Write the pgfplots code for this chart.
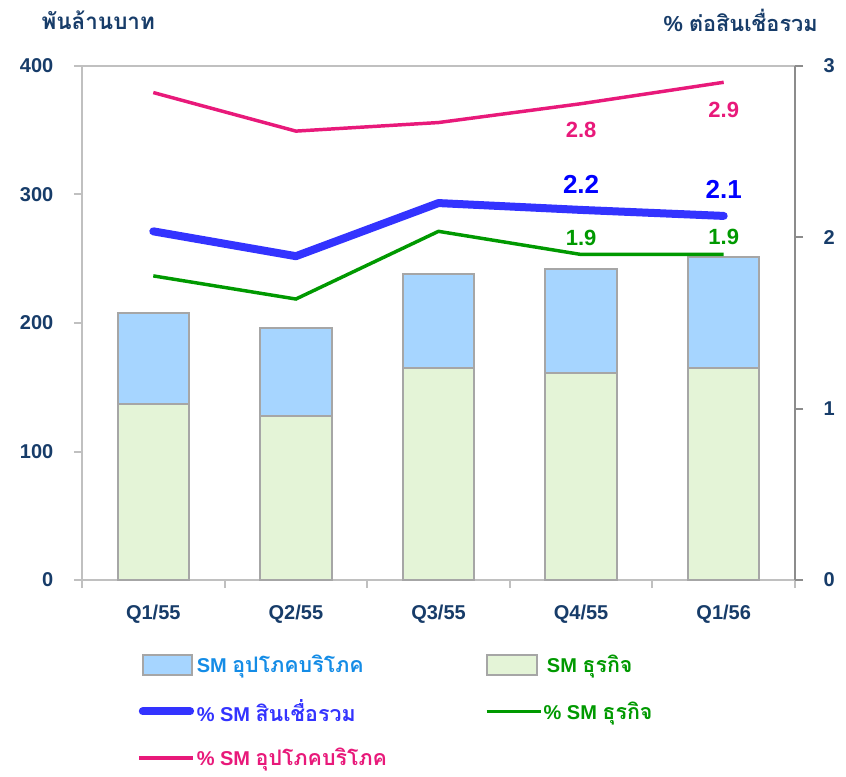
\documentclass[border=0pt]{standalone}
\usepackage{fontspec}
\setmainfont{Liberation Sans}
\newfontfamily\thai[Script=Thai]{Loma}
\newfontfamily\thaiL[Script=Thai,Scale=1.07]{Loma}
\usepackage{pgfplots}
\pgfplotsset{compat=1.18}
\definecolor{navy}{RGB}{23,60,105}
\definecolor{barblue}{RGB}{166,213,255}
\definecolor{bargreen}{RGB}{228,244,215}
\definecolor{bargray}{RGB}{166,166,166}
\definecolor{framegray}{RGB}{192,192,192}
\definecolor{rframe}{RGB}{140,140,140}
\definecolor{lblue}{RGB}{51,51,255}
\definecolor{lgreen}{RGB}{0,153,0}
\definecolor{lpink}{RGB}{232,25,122}
\definecolor{tblue}{RGB}{20,140,230}
\definecolor{dblue}{RGB}{0,0,255}
\begin{document}
\begin{tikzpicture}[font=\bfseries\fontsize{15pt}{18pt}\selectfont]
\path[use as bounding box] (0,0) rectangle (634.5pt,582pt);
% titles
\node[anchor=west, text=navy, inner sep=0pt, font=\bfseries\fontsize{16.8pt}{20pt}\selectfont] at (31pt,567pt) {\thai\bfseries พันล้านบาท};
\node[anchor=east, text=navy, inner sep=0pt, font=\bfseries\fontsize{16.3pt}{20pt}\selectfont] at (613.5pt,567pt) {\% {\thai\bfseries ต่อสินเชื่อรวม}};
\begin{axis}[
  at={(61.5pt,147pt)}, anchor=south west,
  width=534.75pt, height=385.5pt, scale only axis,
  xmin=-0.5, xmax=4.5, ymin=0, ymax=400,
  ytick={0,100,200,300,400},
  xtick={-0.5,0.5,1.5,2.5,3.5,4.5},
  x tick label as interval,
  xticklabels={Q1/55,Q2/55,Q3/55,Q4/55,Q1/56},
  xtick pos=left, ytick pos=left,
  tick align=outside,
  major tick length=6pt,
  tick style={framegray, line width=1.5pt},
  axis line style={framegray, line width=1.5pt},
  /pgf/number format/assume math mode=true,
  tick label style={font=\bfseries\fontsize{15pt}{18pt}\selectfont, text=navy},
  yticklabel style={xshift=-12pt},
  xticklabel style={yshift=-9pt},
  ybar stacked, bar width=0.5,
]
\addplot[fill=bargreen, draw=bargray, line width=1.5pt] coordinates {(0,137)(1,128)(2,165)(3,161)(4,165)};
\addplot[fill=barblue, draw=bargray, line width=1.5pt] coordinates {(0,71)(1,68)(2,73)(3,81)(4,86)};
\end{axis}
\begin{axis}[
  at={(61.5pt,147pt)}, anchor=south west,
  width=534.75pt, height=385.5pt, scale only axis,
  xmin=-0.5, xmax=4.5, ymin=0, ymax=3,
  ytick={0,1,2,3},
  axis y line*=right, axis x line=none,
  tick align=outside,
  major tick length=6pt,
  ytick style={rframe, line width=1.5pt},
  y axis line style={rframe, line width=1.5pt},
  /pgf/number format/assume math mode=true,
  tick label style={font=\bfseries\fontsize{15pt}{18pt}\selectfont, text=navy},
  yticklabel style={xshift=12pt},
  legend columns=2,
  legend cell align=left,
  legend style={draw=none, fill=none, at={(0.069,-0.135)}, anchor=north west,
    row sep=14.6pt, font=\bfseries\fontsize{15pt}{18pt}\selectfont},
  legend image code/.code={\draw[#1] (0pt,0pt) -- (40.5pt,0pt);},
]
\addlegendimage{legend image code/.code={\draw[fill=barblue,draw=bargray,line width=1.5pt] (3pt,-7.5pt) rectangle (39.5pt,7.5pt);}}
\addlegendentry{\hspace*{-2.5pt}\makebox[214pt][l]{\textcolor{tblue}{SM {\thaiL\bfseries อุปโภคบริโภค}}}}
\addlegendimage{legend image code/.code={\draw[fill=bargreen,draw=bargray,line width=1.5pt] (0.5pt,-7.5pt) rectangle (37.5pt,7.5pt);}}
\addlegendentry{\hspace*{1.5pt}\textcolor{lgreen}{SM {\thaiL\bfseries ธุรกิจ}}}
\addplot[lblue, line width=6pt, line cap=round, line join=round, legend image post style={shorten <=2.5pt, shorten >=2.5pt}] coordinates {(0,2.035)(1,1.89)(2,2.2)(3,2.16)(4,2.125)};
\addlegendentry{\hspace*{-2.5pt}\textcolor{lblue}{\% SM {\thaiL\bfseries สินเชื่อรวม}}}
\addplot[lgreen, line width=2.6pt] coordinates {(0,1.775)(1,1.64)(2,2.035)(3,1.9)(4,1.9)};
\addlegendentry{\hspace*{-1pt}\textcolor{lgreen}{\% SM {\thaiL\bfseries ธุรกิจ}}}
\addplot[lpink, line width=2.6pt] coordinates {(0,2.845)(1,2.62)(2,2.67)(3,2.78)(4,2.905)};
\addlegendentry{\hspace*{-2.5pt}\textcolor{lpink}{\% SM {\thaiL\bfseries อุปโภคบริโภค}}}
\node[text=lpink, font=\bfseries\fontsize{16.5pt}{18pt}\selectfont, yshift=-19.5pt] at (axis cs:3,2.78) {2.8};
\node[text=lpink, font=\bfseries\fontsize{16.5pt}{18pt}\selectfont, yshift=-21pt] at (axis cs:4,2.905) {2.9};
\node[text=dblue, font=\bfseries\fontsize{19.5pt}{22pt}\selectfont, yshift=19.5pt] at (axis cs:3,2.16) {2.2};
\node[text=dblue, font=\bfseries\fontsize{19.5pt}{22pt}\selectfont, yshift=20pt] at (axis cs:4,2.125) {2.1};
\node[text=lgreen, font=\bfseries\fontsize{16.5pt}{18pt}\selectfont, yshift=12.5pt] at (axis cs:3,1.9) {1.9};
\node[text=lgreen, font=\bfseries\fontsize{16.5pt}{18pt}\selectfont, yshift=13pt] at (axis cs:4,1.9) {1.9};
\end{axis}
\end{tikzpicture}
\end{document}
